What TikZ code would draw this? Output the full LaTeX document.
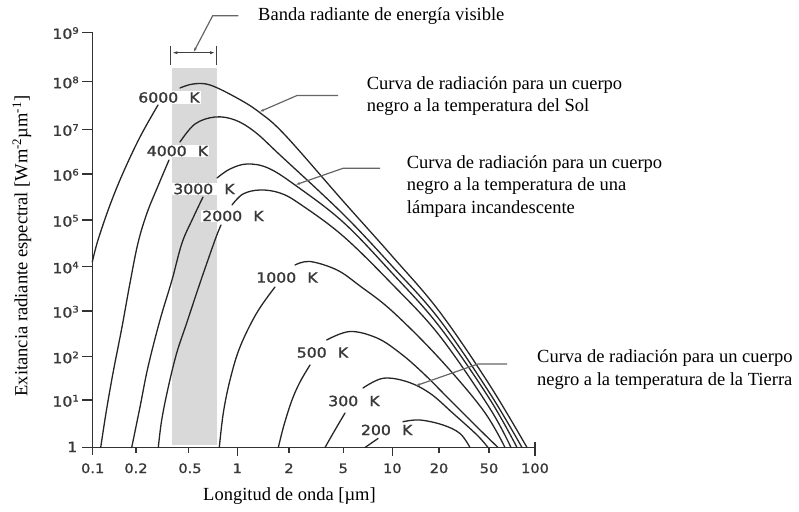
\documentclass[tikz,border=0pt]{standalone}
\usepackage{fontspec}
\usepackage{graphicx}
\setmainfont{Liberation Serif}
\newfontfamily\labf{DejaVu Sans}[FakeBold=1.2]
\usetikzlibrary{arrows.meta}
\newcommand\wide[1]{\scalebox{1.12}[1]{#1}}
\newcommand\tk[1]{\wide{#1\hspace{10pt}K}}
\newcommand\pw[1]{\wide{10\raisebox{5pt}{\fontsize{9}{9}\selectfont #1}}}
\begin{document}
\begin{tikzpicture}[x=1pt,y=-1pt,
  curve/.style={black!85, line width=1.3pt, line join=round, line cap=round},
  lead/.style={black!60, line width=1.2pt},
  axisl/.style={black!80, line width=1.4pt},
  tlab/.style={font=\labf\fontsize{14}{14}\selectfont, text=black!78, fill=white, inner sep=1pt},
  ticklab/.style={font=\labf\fontsize{13}{13}\selectfont, text=black!78, inner sep=0pt, anchor=base},
  ylab/.style={font=\labf\fontsize{14}{14}\selectfont, text=black!78, inner sep=0pt, anchor=base east},
  txt/.style={font=\fontsize{18.5}{22}\selectfont, inner sep=0pt, anchor=base west},
  tip/.style={{Latex[length=5pt,width=2.8pt]}-}
]
\useasboundingbox (0,0) rectangle (799,511);
% visible band
\fill[black!15] (172,68) rectangle (216.5,445);
% axes
\draw[axisl] (92.3,32.3) -- (92.3,455);
\draw[axisl] (82,447.5) -- (536,447.5);
\foreach \yy in {32.3,81.7,129.3,174,220,266.7,311,356.7,400,447.5}
  \draw[axisl] (82,\yy) -- (92.3,\yy);
\foreach \xx in {237.3,392.3}
  \draw[axisl] (\xx,447.5) -- (\xx,456);
\draw[axisl] (535,442) -- (535,456);
\foreach \xx in {136,188.3,289,343.3,439,489}
  \draw[axisl] (\xx,447.5) -- (\xx,453);
% y tick labels
\node[ylab] (y9) at (79,38.8) {\pw{9}};
\node[ylab] (y8) at (79,88.2) {\pw{8}};
\node[ylab] (y7) at (79,135.8) {\pw{7}};
\node[ylab] (y6) at (79,180.5) {\pw{6}};
\node[ylab] (y5) at (79,226.5) {\pw{5}};
\node[ylab] (y4) at (79,273.2) {\pw{4}};
\node[ylab] (y3) at (79,317.5) {\pw{3}};
\node[ylab] (y2) at (79,363.2) {\pw{2}};
\node[ylab] (y1) at (79,406.5) {\pw{1}};
\node[ylab] (y0) at (77.5,452) {\wide{1}};
% x tick labels
\node[ticklab] (x1) at (92.7,473) {\wide{0.1}};
\node[ticklab] (x2) at (136,473) {\wide{0.2}};
\node[ticklab] (x3) at (190,473) {\wide{0.5}};
\node[ticklab] (x4) at (237.3,473) {\wide{1}};
\node[ticklab] (x5) at (289,473) {\wide{2}};
\node[ticklab] (x6) at (343.3,473) {\wide{5}};
\node[ticklab] (x7) at (392.3,473) {\wide{10}};
\node[ticklab] (x8) at (439,473) {\wide{20}};
\node[ticklab] (x9) at (489,473) {\wide{50}};
\node[ticklab] (x10) at (535,473) {\wide{100}};
% curves
\draw[curve] plot[smooth,tension=0.6] coordinates {(92.3,262) (98,240) (110,205) (123,173) (140,137) (158,105)};
\draw[curve] plot[smooth,tension=0.6] coordinates {(180,88) (193,84) (210,85) (237,98) (259,112) (285,135) (343,201) (392,256) (439,311) (489,384) (527,447.5)};
\draw[curve] plot[smooth,tension=0.6] coordinates {(100.7,447.5) (106,413) (113,373) (122,327) (130,283) (138,243) (147,213) (158,186) (169,160)};
\draw[curve] plot[smooth,tension=0.6] coordinates {(180,142) (195,124) (215,117) (235,120) (255,132) (280,155) (343,214) (392,266) (439,319) (489,392) (522,447.5)};
\draw[curve] plot[smooth,tension=0.6] coordinates {(131.7,447.5) (140,407) (148,367) (160,320) (172,280) (182,243) (193,218) (203,197)};
\draw[curve] plot[smooth,tension=0.6] coordinates {(217,178) (230,169) (247,164) (268,168) (295,185) (343,222) (392,273) (439,326) (489,398) (517,447.5)};
\draw[curve] plot[smooth,tension=0.6] coordinates {(158.3,447.5) (161.7,420) (168.3,387) (176.7,353) (186.7,323) (200,283) (215,240) (221,225)};
\draw[curve] plot[smooth,tension=0.6] coordinates {(232,205) (243,194) (260,190) (280,193) (300,204) (343,236) (392,284) (439,335) (489,407) (511,447.5)};
\draw[curve] plot[smooth,tension=0.6] coordinates {(219.3,447.5) (223.3,413) (230,380) (240,347) (256.7,313) (275,287)};
\draw[curve] plot[smooth,tension=0.6] coordinates {(295,265) (310,261.5) (337,270) (360,286) (392,311) (439,358) (483,410) (505,447.5)};
\draw[curve] plot[smooth,tension=0.6] coordinates {(278.3,447.5) (284,425) (292,400) (300,382) (310,365)};
\draw[curve] plot[smooth,tension=0.6] coordinates {(326.7,340) (350,331.5) (377,338) (400,353) (423,373) (450,400) (477,427) (498,447.5)};
\draw[curve] plot[smooth,tension=0.6] coordinates {(325,447.5) (335,430) (345,413)};
\draw[curve] plot[smooth,tension=0.6] coordinates {(363,388) (383,378.3) (407,381.7) (430,393.3) (453,413.3) (477,435) (488,447.5)};
\draw[curve] (365,447.5) -- (378,438.5);
\draw[curve] plot[smooth,tension=0.6] coordinates {(403,421.7) (420,420) (443,425) (460,433.5) (470,447.5)};
% temperature labels
\node[tlab] (t6000) at (169,97.5) {\tk{6000}};
\node[tlab] (t4000) at (177.5,151) {\tk{4000}};
\node[tlab] (t3000) at (204,189) {\tk{3000}};
\node[tlab] (t2000) at (233,216) {\tk{2000}};
\node[tlab] (t1000) at (287,277.5) {\tk{1000}};
\node[tlab] (t500) at (322.5,352.5) {\tk{500}};
\node[tlab] (t300) at (354,401) {\tk{300}};
\node[tlab] (t200) at (386.7,430) {\tk{200}};
% band bracket
\draw[lead, black!75] (170.7,46) -- (170.7,65);
\draw[lead, black!75] (216.7,46) -- (216.7,65);
\draw[lead, black!75, {Latex[length=6pt,width=3pt]}-{Latex[length=6pt,width=3pt]}] (171.3,52.7) -- (216.1,52.7);
% leaders
\coordinate (bA) at (193.3,52.7);
\coordinate (bB) at (212.7,15.7);
\coordinate (bC) at (238.3,15.7);
\draw[lead, tip] (bA) -- (bB) -- (bC);
\coordinate (sA) at (259,112);
\coordinate (sB) at (297,95.5);
\coordinate (sC) at (338,95.5);
\draw[lead, tip] (sA) -- (sB) -- (sC);
\coordinate (lA) at (295,185);
\coordinate (lB) at (343,168.3);
\coordinate (lC) at (380,168.3);
\draw[lead, tip] (lA) -- (lB) -- (lC);
\coordinate (eA) at (415,386);
\coordinate (eB) at (478,364);
\coordinate (eC) at (507,364);
\draw[lead, tip] (eA) -- (eB) -- (eC);
% texts
\node[txt] (banda) at (258,21) {Banda radiante de energía visible};
\node[txt] (sol1) at (366.7,89) {Curva de radiación para un cuerpo};
\node[txt] (sol2) at (366.7,111) {negro a la temperatura del Sol};
\node[txt] (lam1) at (406.7,168) {Curva de radiación para un cuerpo};
\node[txt] (lam2) at (406.7,190.5) {negro a la temperatura de una};
\node[txt] (lam3) at (406.7,213) {lámpara incandescente};
\node[txt] (tie1) at (537,362) {Curva de radiación para un cuerpo};
\node[txt] (tie2) at (537,385) {negro a la temperatura de la Tierra};
\node[txt] (xl) at (203,500) {Longitud de onda [µm]};
\node[font=\fontsize{18.5}{22}\selectfont, inner sep=0pt, rotate=90] (yl) at (22,246) {Exitancia radiante espectral [Wm\textsuperscript{-2}µm\textsuperscript{-1}]};
\end{tikzpicture}
\end{document}
